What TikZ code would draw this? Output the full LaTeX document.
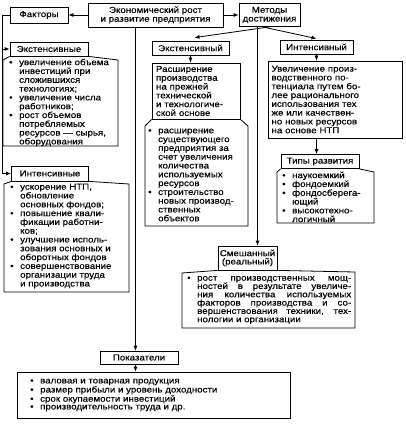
\documentclass[tikz,border=0pt]{standalone}
\usepackage{fontspec}
\setmainfont{Liberation Sans}[FakeStretch=1.13,FakeBold=0.3]
\usetikzlibrary{arrows.meta}
\newcommand{\fs}{\fontsize{8.6}{8.8}\selectfont}
\newcommand{\bu}{\makebox[10pt][l]{\textbullet}}
\newcommand{\ii}{\hspace*{10pt}}
\newcommand{\jl}[2]{\makebox[#1][s]{#2}}
\tikzset{
  box/.style={draw, line width=0.8pt, inner sep=0pt, align=center, font=\fs},
  arr/.style={line width=0.8pt, -{Latex[length=5pt,width=4pt]}},
  lst/.style={inner sep=0pt, align=left, anchor=west, font=\fs},
  tab/.style={line width=0.8pt, line join=miter}
}
\begin{document}
\begin{tikzpicture}[x=1pt,y=-1pt]
\useasboundingbox[fill=white] (0,0) rectangle (405,425);
% top
\node[box, minimum width=135pt, minimum height=24pt] (econ) at (155.5,15)
  {Экономический рост\\и развитие предприятия};
\node[box, minimum width=58pt, minimum height=16pt] (fakt) at (39,15) {Факторы};
\node[box, minimum width=61pt, minimum height=23pt] (met) at (269.5,15)
  {Методы\\достижения};
% left column
\node[box, minimum width=78pt, minimum height=14pt] (extl) at (49,49) {Экстенсивные};
\node[box, minimum width=77pt, minimum height=15pt] (intl) at (50,173.5) {Интенсивные};
\draw[tab] (extl.south west) -- (3,60) -- (3,146) -- (118,146) -- (118,60) -- (extl.south east);
\node[lst] (extlist) at (9,102.5) {\bu увеличение объема\\
\ii инвестиций при\\
\ii сложившихся\\
\ii технологиях;\\
\bu увеличение числа\\
\ii работников;\\
\bu рост объемов\\
\ii потребляемых\\
\ii ресурсов — сырья,\\
\ii оборудования};
\draw[tab] (intl.south west) -- (4,184) -- (4,292) -- (129,292) -- (129,184) -- (intl.south east);
\node[lst] (intlist) at (10,236) {\bu ускорение НТП,\\
\ii обновление\\
\ii основных фондов;\\
\bu повышение квали-\\
\ii фикации работни-\\
\ii ков;\\
\bu улучшение исполь-\\
\ii зования основных и\\
\ii оборотных фондов\\
\bu совершенствование\\
\ii организации труда\\
\ii и производства};
% middle column
\node[box, minimum width=77pt, minimum height=14pt] (extm) at (190.5,48) {Экстенсивный};
\node[box, minimum width=88pt, minimum height=56pt, align=left, text width=80pt] (rassh) at (196,91)
  {Расширение\\производства\\на прежней\\технической\\и технологиче-\\ской основе};
\draw[tab] (rassh.south west) -- (145,126) -- (145,226) -- (248,226) -- (248,126) -- (rassh.south east);
\node[lst] (midlist) at (148,175) {\bu расширение\\
\ii существующего\\
\ii предприятия за\\
\ii счет увеличения\\
\ii количества\\
\ii используемых\\
\ii ресурсов\\
\bu строительство\\
\ii новых производ-\\
\ii ственных\\
\ii объектов};
% right column
\node[box, minimum width=73pt, minimum height=14pt] (intm) at (316.5,47) {Интенсивный};
\node[box, minimum width=134pt, minimum height=77pt, align=left, text width=127pt] (uvel) at (335,99.5)
  {\jl{127pt}{Увеличение произ-}\\\jl{127pt}{водственного по-}\\\jl{127pt}{тенциала путем бо-}\\\jl{127pt}{лее рационального}\\\jl{127pt}{использования тех}\\\jl{127pt}{же или качествен-}\\\jl{127pt}{но новых ресурсов}\\на основе НТП};
\node[box, minimum width=78pt, minimum height=14pt] (tipy) at (320,161.5) {Типы развития};
\draw[tab] (tipy.south west) -- (277,172) -- (277,223) -- (374,223) -- (374,172) -- (tipy.south east);
\node[lst] (tiplist) at (282,197) {\bu наукоемкий\\
\bu фондоемкий\\
\bu фондосберега-\\
\ii ющий\\
\bu высокотехно-\\
\ii логичный};
% mixed
\node[box, minimum width=59pt, minimum height=24pt, font={\fontsize{8.6}{8.3}\selectfont}] (mix) at (247.5,258)
  {Смешанный\\(реальный)};
\draw[tab] (mix.south west) -- (182,273) -- (182,328) -- (355,328) -- (355,272) -- (mix.south east);
\node[lst, font={\fontsize{8.6}{8.3}\selectfont}] (mixlist) at (187,300) {\bu\jl{154pt}{рост производственных мощ-}\\
\ii\jl{154pt}{ностей в результате увеличе-}\\
\ii\jl{154pt}{ния количества используемых}\\
\ii\jl{154pt}{факторов производства и со-}\\
\ii\jl{154pt}{вершенствования техники, тех-}\\
\ii нологии и организации};
% indicators
\node[box, minimum width=78pt, minimum height=13pt] (pokaz) at (139,357.5) {Показатели};
\node[draw, line width=0.8pt, minimum width=273pt, minimum height=46pt, inner sep=0pt] (plist) at (153.5,395) {};
\node[lst, font={\fontsize{8.6}{7.8}\selectfont}] (ptext) at (30,395) {\bu валовая и товарная продукция\\
\bu размер прибыли и уровень доходности\\
\bu срок окупаемости инвестиций\\
\bu производительность труда и др.};
% connectors
\draw[arr] (econ.west) -- (fakt.east);
\draw[arr] (econ.east) -- (met.west);
\coordinate (lx) at (2,15);
\draw[line width=0.8pt] (fakt.west) -- (lx) -- (lx |- intl.west);
\draw[arr] (lx |- extl.west) -- (extl.west);
\draw[arr] (lx |- intl.west) -- (intl.west);
\draw[arr] (met.south) -- ([xshift=4pt,yshift=3pt]extm.north);
\draw[arr] ([xshift=-7pt]met.south) -- ([yshift=1pt]intm.north);
\coordinate (mtop) at ([xshift=-12pt]met.south);
\draw[arr] (mtop) -- (mtop |- mix.north);
\draw[arr] (extm.south) -- (extm.south |- rassh.north);
\draw[arr] (intm.south) -- (intm.south |- uvel.north);
\draw[arr] (intm.south |- uvel.south) -- (intm.south |- tipy.north);
\coordinate (mainx) at ([xshift=-20pt]econ.south);
\draw[arr] (mainx) -- (mainx |- pokaz.north);
\draw[arr] (mainx |- pokaz.south) -- (mainx |- plist.north);
\end{tikzpicture}
\end{document}
